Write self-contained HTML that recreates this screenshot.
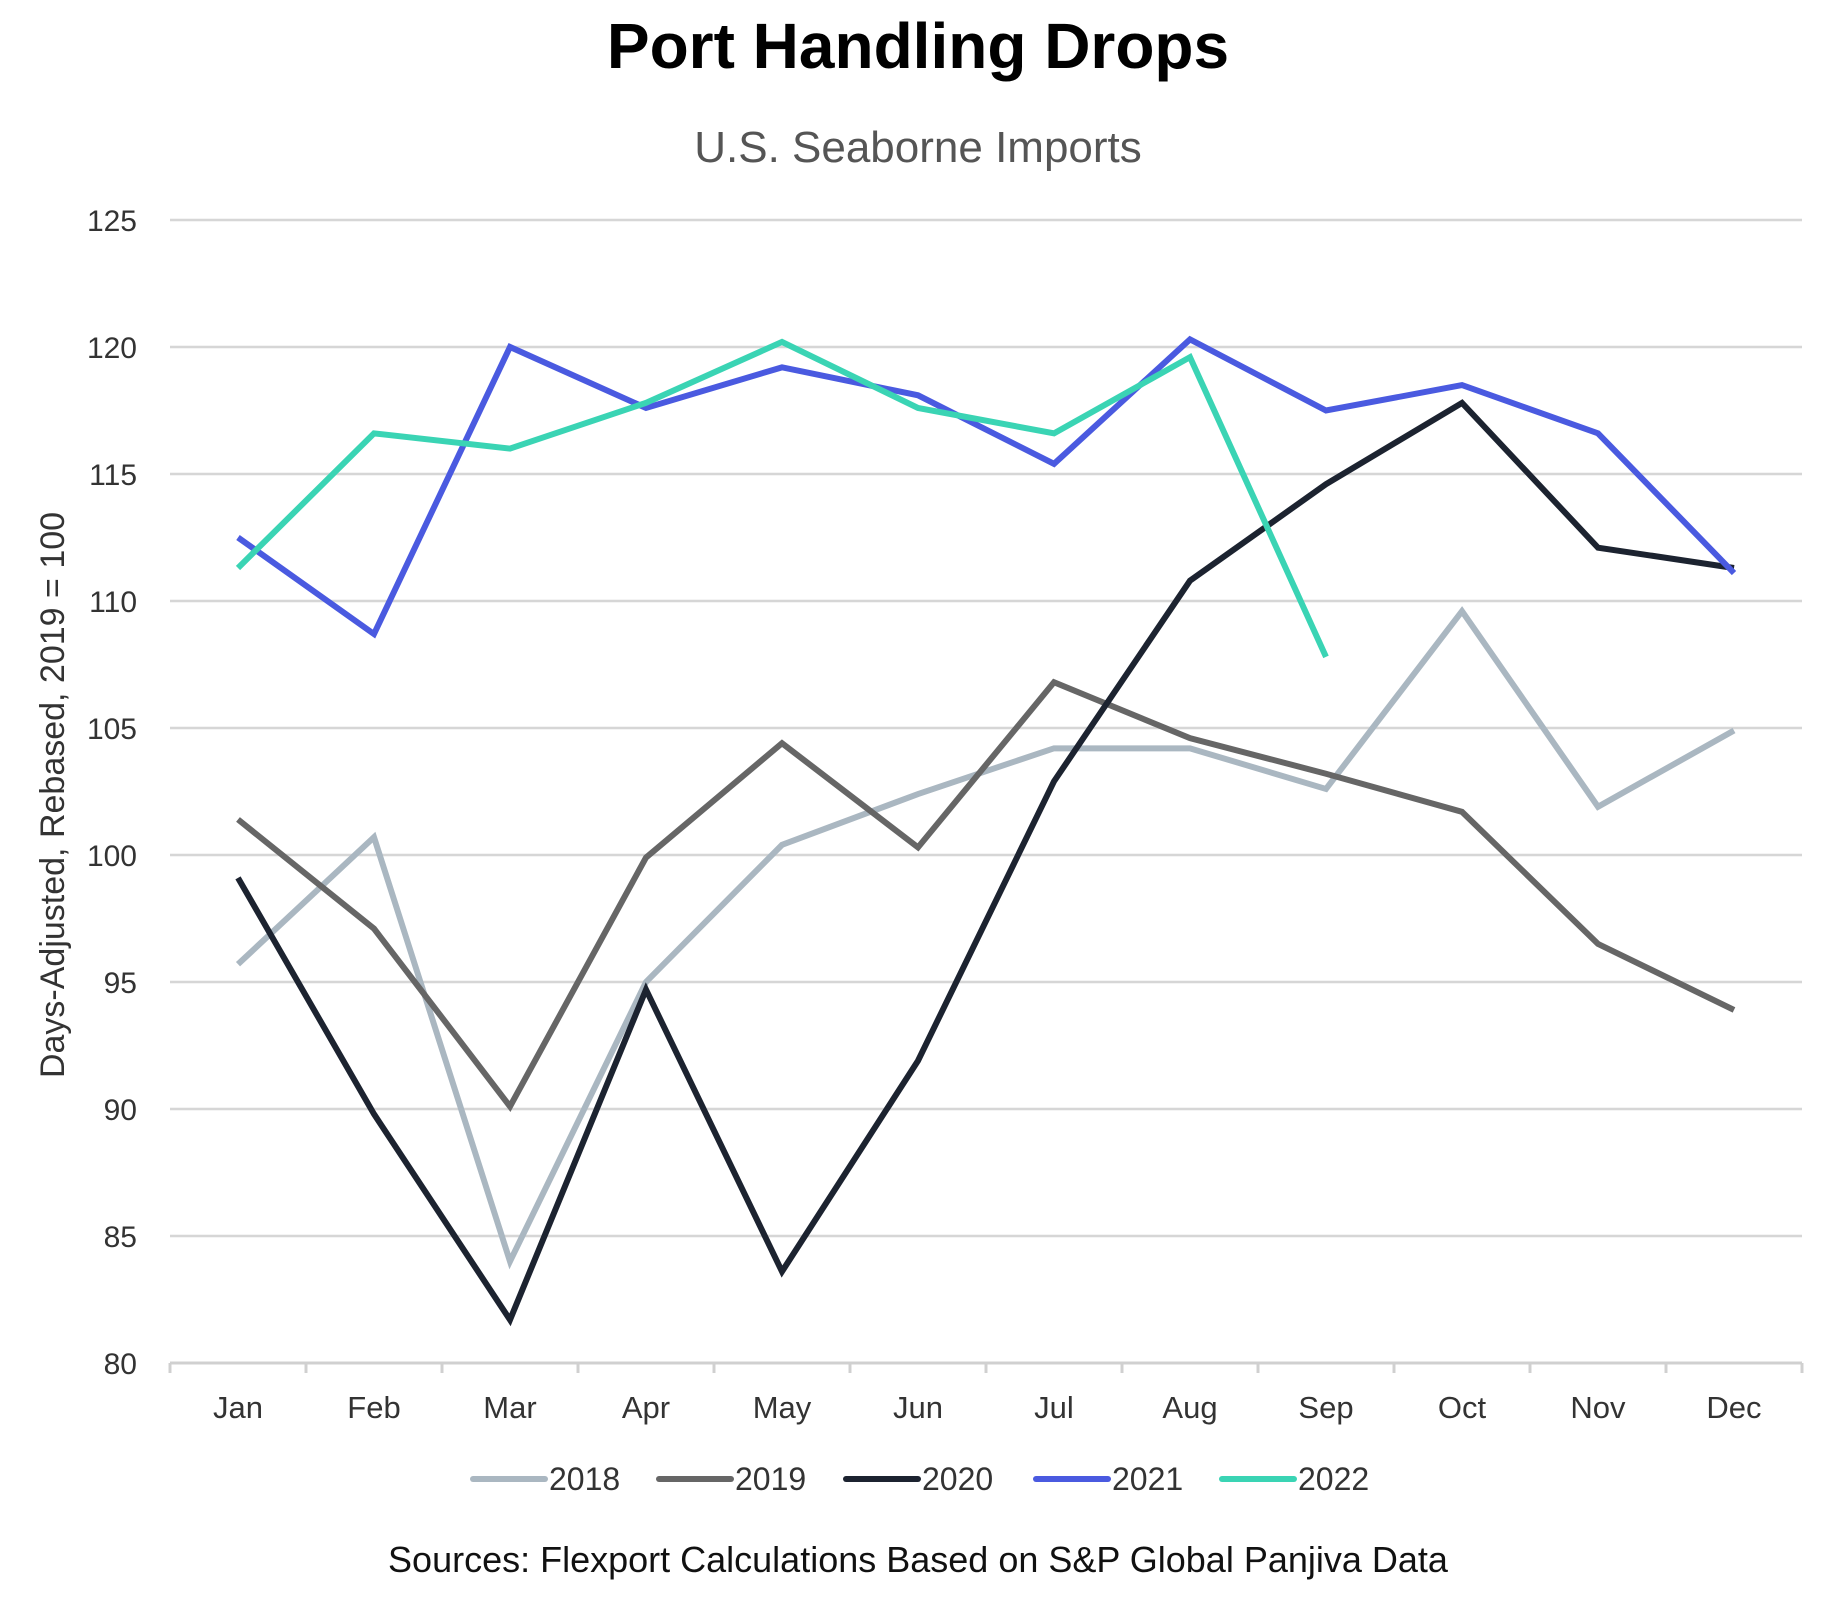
<!DOCTYPE html>
<html><head><meta charset="utf-8"><style>
body{margin:0;background:#fff}
svg text{font-family:"Liberation Sans",sans-serif}
</style></head><body>
<svg id="chart" width="1845" height="1594" xmlns="http://www.w3.org/2000/svg">
<text x="918" y="68" text-anchor="middle" font-size="64" font-weight="bold" fill="#000">Port Handling Drops</text>
<text x="918" y="162" text-anchor="middle" font-size="44" fill="#555">U.S. Seaborne Imports</text>
<text transform="translate(64,795) rotate(-90)" text-anchor="middle" font-size="34" fill="#333">Days-Adjusted, Rebased, 2019 = 100</text>
<g id="grid"></g><g id="xaxis"></g><g id="lines"></g><g id="legend"></g>
<text x="918" y="1572" text-anchor="middle" font-size="36" fill="#111">Sources: Flexport Calculations Based on S&amp;P Global Panjiva Data</text>
</svg>
<script>
const months=["Jan","Feb","Mar","Apr","May","Jun","Jul","Aug","Sep","Oct","Nov","Dec"];
const yTicks=[80,85,90,95,100,105,110,115,120,125];
const seriesNames=["2018","2019","2020","2021","2022"];
const s2018=[95.7,100.7,84,95,100.4,102.4,104.2,104.2,102.6,109.6,101.9,104.9];
const s2019=[101.4,97.1,90.1,99.9,104.4,100.3,106.8,104.6,103.2,101.7,96.5,93.9];
const s2020=[99.1,89.8,81.7,94.7,83.6,91.9,102.9,110.8,114.6,117.8,112.1,111.3];
const s2021=[112.5,108.7,120,117.6,119.2,118.1,115.4,120.3,117.5,118.5,116.6,111.1];
const s2022=[111.3,116.6,116,117.8,120.2,117.6,116.6,119.6,107.8];
const colors=["#aab7c1","#666666","#1c2330","#4a5ae0","#3ad4b4"];
const NS="http://www.w3.org/2000/svg";
const L=170,R=1802,T=220,B=1363;
const step=(R-L)/months.length;
const x=i=>L+step*(i+0.5);
const y=v=>B-(v-80)/(125-80)*(B-T);
function mk(tag,attrs,parent){const e=document.createElementNS(NS,tag);for(const k in attrs)e.setAttribute(k,attrs[k]);parent.appendChild(e);return e;}
const grid=document.getElementById('grid');
yTicks.forEach(v=>{
  if(v>80){const g=mk('line',{x1:L,x2:R,y1:y(v),y2:y(v),stroke:'#d6d6d6','stroke-width':2.5},grid);
  
  }
  const t=mk('text',{x:137,y:y(v)+11,'text-anchor':'end','font-size':30,fill:'#333'},grid);
  t.textContent=v;
  
  
});
const xa=document.getElementById('xaxis');
const ax=mk('line',{x1:L,x2:R,y1:B,y2:B,stroke:'#d0d0d0','stroke-width':3},xa);


for(let i=0;i<=months.length;i++){
  const tk=mk('line',{x1:L+step*i,x2:L+step*i,y1:B,y2:B+10,stroke:'#d0d0d0','stroke-width':3},xa);
  
  
}
months.forEach((m,i)=>{
  const t=mk('text',{x:x(i),y:1418,'text-anchor':'middle','font-size':31,fill:'#333'},xa);
  t.textContent=m;
  
  
});
const data=[s2018,s2019,s2020,s2021,s2022];
const lg=document.getElementById('lines');
data.forEach((d,si)=>{
  const p=mk('polyline',{points:d.map((v,i)=>x(i)+','+y(v)).join(' '),fill:'none',stroke:colors[si],'stroke-width':6,'stroke-linejoin':'miter'},lg);
  
  
});
const leg=document.getElementById('legend');
const lx=[473,659,846,1036,1222];
seriesNames.forEach((n,i)=>{
  const l=mk('line',{x1:lx[i],x2:lx[i]+72,y1:1479,y2:1479,stroke:colors[i],'stroke-width':6,'stroke-linecap':'round'},leg);
  
  
  const t=mk('text',{x:lx[i]+76,y:1490,'font-size':32,fill:'#333'},leg);
  t.textContent=n;
  
  
});
</script>
</body></html>
